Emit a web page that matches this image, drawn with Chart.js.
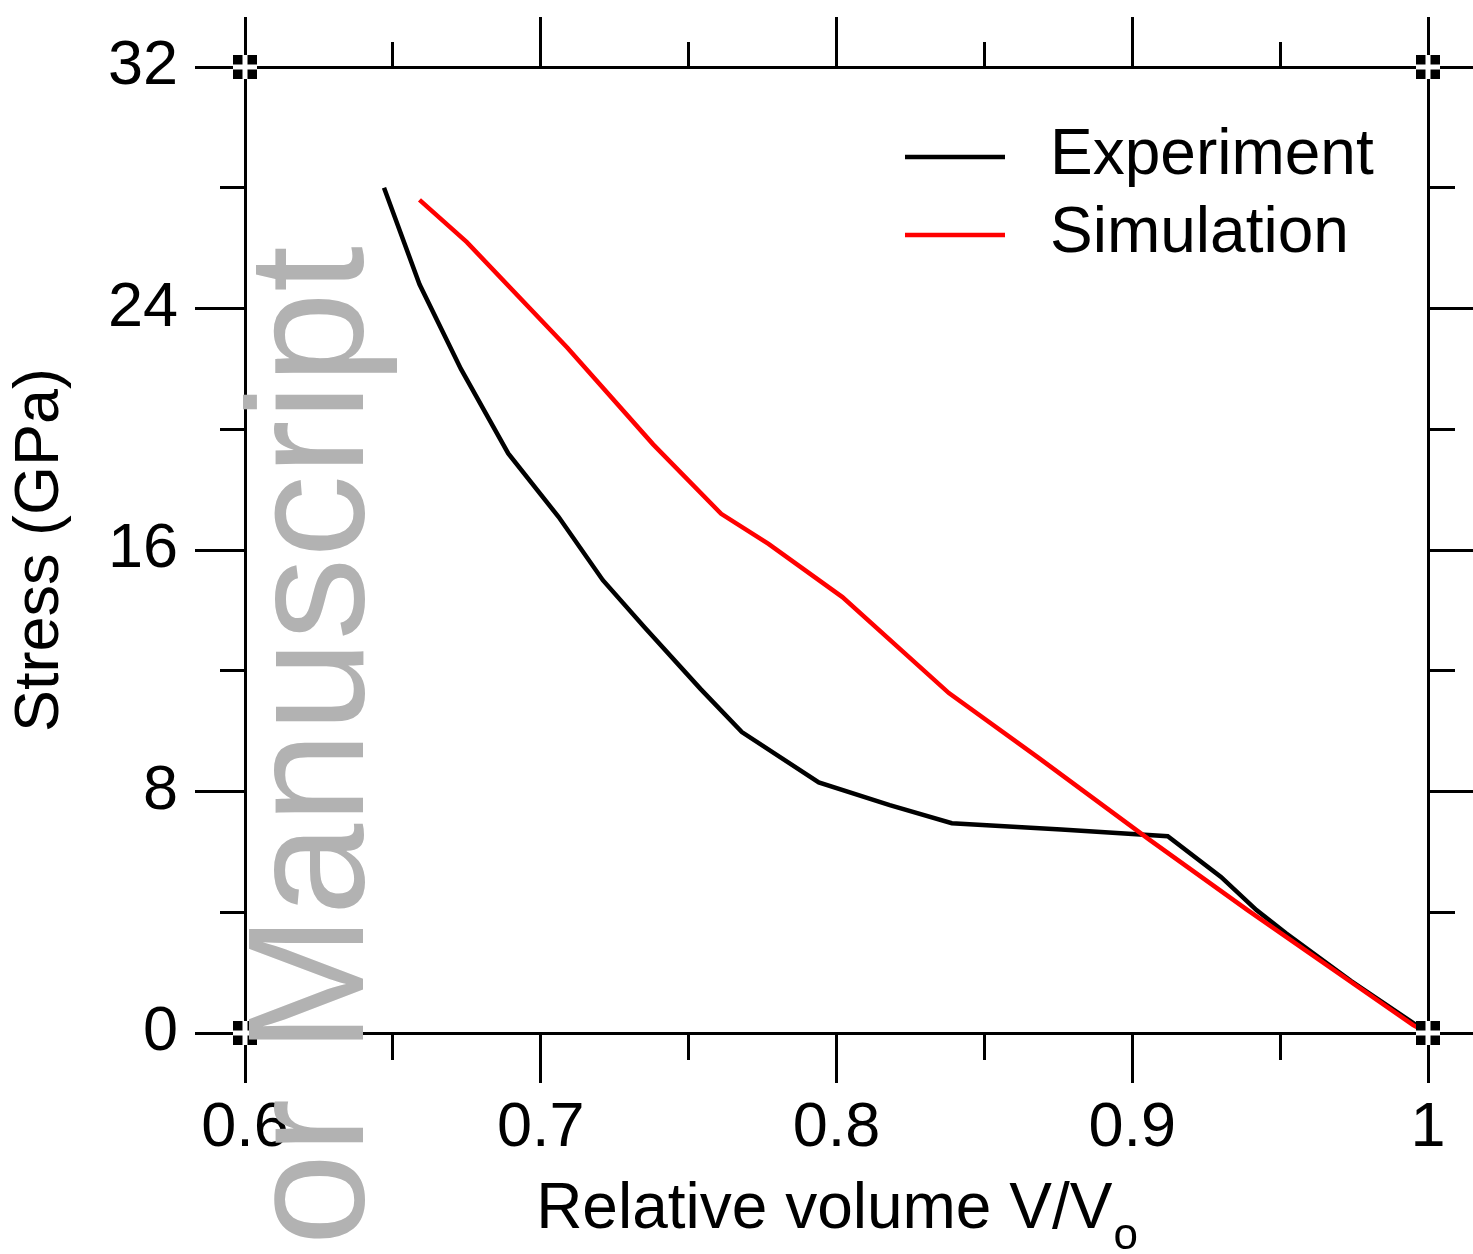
<!DOCTYPE html>
<html>
<head>
<meta charset="utf-8">
<title>Stress vs relative volume</title>
<script src="https://cdn.jsdelivr.net/npm/chart.js@4.4.1/dist/chart.umd.min.js"></script>
<style>
  html, body { margin: 0; padding: 0; background: #fff; }
  canvas { display: block; }
</style>
</head>
<body>
<canvas id="stress" width="1473" height="1254"></canvas>
<script>
// 상대 부피 V/V0 에 따른 응력 (GPa)
const expVolume = [0.647, 0.659, 0.673, 0.689, 0.706, 0.721, 0.735, 0.754, 0.768, 0.794, 0.818, 0.839, 0.876, 0.912, 0.930, 0.942, 0.952, 0.974, 1.0];
const expStress = [28.0, 24.8, 22.0, 19.2, 17.1, 15.0, 13.45, 11.4, 9.97, 8.3, 7.55, 6.95, 6.74, 6.52, 5.17, 4.07, 3.3, 1.72, 0];

const simVolume = [0.659, 0.675, 0.709, 0.738, 0.761, 0.777, 0.802, 0.838, 0.868, 0.906, 0.939, 0.995, 1.0];
const simStress = [27.6, 26.2, 22.7, 19.5, 17.2, 16.2, 14.44, 11.26, 9.14, 6.39, 4.07, 0.26, 0];

const xRange = [0.6, 1.0];
const yRange = [0, 32];
const xLabelStep = 0.1;
const yLabelStep = 8;

const FONT = '"Liberation Sans", Arial, Helvetica, sans-serif';
Chart.defaults.font.family = FONT;
Chart.defaults.color = '#000';

const toPoints = (xs, ys) => xs.map((x, i) => ({ x, y: ys[i] }));
const frameCorners = [
  { x: xRange[0], y: yRange[0] }, { x: xRange[0], y: yRange[1] },
  { x: xRange[1], y: yRange[1] }, { x: xRange[1], y: yRange[0] },
];

const isMajorX = (v) => Math.abs(Math.round(v / xLabelStep) * xLabelStep - v) < 1e-6;
const isMajorY = (v) => v % yLabelStep === 0;

// 눈금: 주 눈금 50px, 보조 눈금은 대시로 25px만 그린다
const MAJOR = 50;
const MINOR = 25;
const dashFromBorder = [MINOR, 200];
const dashToBorder = [0, MAJOR - MINOR, MINOR, 200];

function frameAxis(position, isMajor, size, extra = {}) {
  const nearBorderFirst = position === 'bottom' || position === 'right';
  return {
    type: 'linear',
    position,
    min: position === 'bottom' || position === 'top' ? xRange[0] : yRange[0],
    max: position === 'bottom' || position === 'top' ? xRange[1] : yRange[1],
    border: { display: true, color: '#000', width: 3 },
    grid: {
      drawOnChartArea: false,
      drawTicks: true,
      tickLength: MAJOR,
      tickWidth: 3,
      tickColor: '#000',
      tickBorderDash: (ctx) => (ctx.tick && !isMajor(ctx.tick.value) ? (nearBorderFirst ? dashFromBorder : dashToBorder) : []),
    },
    afterFit: (scale) => {
      if (scale.isHorizontal()) scale.height = size;
      else scale.width = size;
    },
    ...extra,
  };
}

// 플롯 영역 안쪽 오른쪽 위 범례
const insideLegend = {
  id: 'insideLegend',
  afterDatasetsDraw(chart) {
    const { ctx, chartArea } = chart;
    const rows = chart.data.datasets.filter((d) => d.label);
    const lineX0 = chartArea.right - 523;
    const lineX1 = chartArea.right - 423;
    const textX = chartArea.right - 378;
    ctx.save();
    ctx.font = `64px ${FONT}`;
    ctx.textBaseline = 'alphabetic';
    ctx.textAlign = 'left';
    rows.forEach((d, i) => {
      const base = chartArea.top + 107 + i * 78;
      ctx.strokeStyle = d.borderColor;
      ctx.lineWidth = 4.5;
      ctx.beginPath();
      ctx.moveTo(lineX0, base - 17);
      ctx.lineTo(lineX1, base - 17);
      ctx.stroke();
      ctx.fillStyle = '#000';
      ctx.fillText(d.label, textX, base);
    });
    ctx.restore();
  },
};

// x축 제목 (아래첨자 o 포함)
const xTitle = {
  id: 'xTitle',
  afterDraw(chart) {
    const { ctx, chartArea } = chart;
    const main = 'Relative volume V/V';
    const sub = 'o';
    ctx.save();
    ctx.fillStyle = '#000';
    ctx.textBaseline = 'alphabetic';
    ctx.textAlign = 'left';
    ctx.font = `64px ${FONT}`;
    const w1 = ctx.measureText(main).width;
    ctx.font = `44px ${FONT}`;
    const w2 = ctx.measureText(sub).width;
    const x = (chartArea.left + chartArea.right) / 2 - (w1 + w2) / 2;
    ctx.font = `64px ${FONT}`;
    ctx.fillText(main, x, chart.height - 26);
    ctx.font = `44px ${FONT}`;
    ctx.fillText(sub, x + w1 + 1, chart.height - 5);
    ctx.restore();
  },
};

// 세로로 회전된 회색 오버레이 문자
const sideStamp = {
  id: 'sideStamp',
  afterDraw(chart) {
    const { ctx } = chart;
    ctx.save();
    ctx.translate(363, 1053);
    ctx.rotate(-Math.PI / 2);
    ctx.font = `165px ${FONT}`;
    ctx.fillStyle = '#b2b2b2';
    ctx.textBaseline = 'alphabetic';
    ctx.textAlign = 'left';
    ctx.fillText('Manuscript', 0, 0);
    ctx.textAlign = 'right';
    ctx.fillText('Author ', 0, 0);
    ctx.restore();
  },
};

new Chart(document.getElementById('stress'), {
  type: 'line',
  data: {
    datasets: [
      {
        label: 'Experiment',
        data: toPoints(expVolume, expStress),
        borderColor: '#000',
        borderWidth: 4.5,
        pointRadius: 0,
        tension: 0,
        order: 3,
      },
      {
        label: 'Simulation',
        data: toPoints(simVolume, simStress),
        borderColor: '#ff0000',
        borderWidth: 4.5,
        pointRadius: 0,
        tension: 0,
        order: 2,
      },
      {
        data: frameCorners,
        showLine: false,
        pointStyle: 'rect',
        pointRadius: 17,
        pointBackgroundColor: '#000',
        pointBorderWidth: 0,
        clip: false,
        order: 1,
      },
      {
        data: frameCorners,
        showLine: false,
        pointStyle: 'cross',
        pointRadius: 12,
        pointBorderColor: '#fff',
        pointBorderWidth: 5,
        clip: false,
        order: 0,
      },
    ],
  },
  options: {
    responsive: false,
    animation: false,
    events: [],
    layout: { padding: 0 },
    plugins: { legend: { display: false }, tooltip: { enabled: false } },
    scales: {
      x: frameAxis('bottom', isMajorX, 221, {
        ticks: {
          stepSize: 0.05,
          autoSkip: false,
          maxRotation: 0,
          padding: 8,
          font: { size: 63 },
          callback: (v) => (isMajorX(v) ? (Math.abs(v - 1) < 1e-6 ? '1' : v.toFixed(1)) : ''),
        },
      }),
      y: frameAxis('left', isMajorY, 245, {
        ticks: {
          stepSize: 4,
          autoSkip: false,
          padding: 17,
          font: { size: 63 },
          callback: (v) => (isMajorY(v) ? String(v) : ''),
        },
        title: { display: true, text: 'Stress (GPa)', font: { size: 63 }, padding: { top: 3 } },
      }),
      xTop: frameAxis('top', isMajorX, 67, { ticks: { stepSize: 0.05, display: false } }),
      yRight: frameAxis('right', isMajorY, 45, { ticks: { stepSize: 4, display: false } }),
    },
  },
  plugins: [insideLegend, xTitle, sideStamp],
});
</script>
</body>
</html>
